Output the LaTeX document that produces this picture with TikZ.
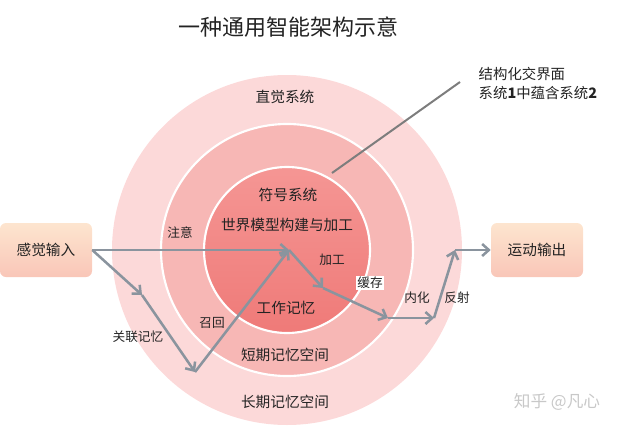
\documentclass[tikz,border=0pt]{standalone}
\usepackage{fontspec}
\setmainfont{Noto Sans CJK SC}
\usetikzlibrary{arrows.meta}
\definecolor{ringout}{RGB}{252,217,217}
\definecolor{ringmid}{RGB}{247,183,181}
\definecolor{coretop}{RGB}{245,150,148}
\definecolor{corebot}{RGB}{239,122,120}
\definecolor{boxtop}{RGB}{253,229,207}
\definecolor{boxbot}{RGB}{249,198,184}
\definecolor{arrowgray}{RGB}{138,148,158}
\definecolor{callgray}{RGB}{125,125,125}
\definecolor{txt}{RGB}{35,35,35}
\definecolor{mark}{RGB}{200,200,200}

\begin{document}
\begin{tikzpicture}[x=0.75pt,y=-0.75pt,
	flow/.style={draw=arrowgray, line width=1.9pt, -{Straight Barb[length=5pt,width=9pt]}},
	iobox/.style={rounded corners=4.5pt, minimum width=69pt, minimum height=40.5pt,
		top color=boxtop, bottom color=boxbot, text=txt, font=\fontsize{11}{13}\selectfont},
	lbl/.style={text=txt, font=\fontsize{9.5}{11}\selectfont},
	ringlbl/.style={text=txt, font=\fontsize{11}{13}\selectfont}]
				\useasboundingbox (0,0) rectangle (640,429);
				\coordinate (c) at (287,250);
				\fill[ringout] (c) circle (131.25pt);
				\draw[white, line width=1.6pt, fill=ringmid] (c) circle (94.5pt);
				\shade[top color=coretop, bottom color=corebot] (c) circle (62.25pt);
				\draw[white, line width=1.6pt] (c) circle (62.25pt);
				\node[text=txt, font=\fontsize{16.5}{18}\selectfont] (title) at (288,27) {一种通用智能架构示意};
				\node[ringlbl] (intuit) at (285,97) {直觉系统};
				\node[ringlbl] (symbol) at (288,195) {符号系统};
				\node[ringlbl] (world) at (287,225) {世界模型构建与加工};
				\node[ringlbl] (work) at (286,308) {工作记忆};
				\node[ringlbl] (short) at (285,355) {短期记忆空间};
				\node[ringlbl] (long) at (285,402) {长期记忆空间};
				\node[iobox] (sense) at (46,250) {感觉输入};
				\node[iobox] (motor) at (537,250) {运动输出};
				\coordinate (hub) at (289,250);
				\coordinate (assoc) at (142,295);
				\coordinate (recall) at (195,372);
				\coordinate (proc) at (323,288);
				\coordinate (cache) at (388,318);
				\coordinate (intern) at (434,318);
				\coordinate (reflex) at (455,250);
				\draw[flow] (sense.east) -- (hub);
				\draw[flow] (sense.east) -- (assoc);
				\draw[flow] (assoc) -- (recall);
				\draw[flow] (recall) -- (hub);
				\draw[flow] (hub) -- (proc);
				\draw[flow] (proc) -- (cache);
				\draw[flow] (cache) -- (intern);
				\draw[flow] (intern) -- (reflex);
				\draw[flow] (reflex) -- (motor.west);
				\node[lbl] (attend) at (180,233) {注意};
				\node[lbl] (assoclbl) at (138,337) {关联记忆};
				\node[lbl] (recalllbl) at (212,323) {召回};
				\node[lbl] (proclbl) at (332,260) {加工};
				\node[lbl, fill=white, inner sep=1pt] (cachelbl) at (370,283) {缓存};
				\node[lbl] (internlbl) at (417,298) {内化};
				\node[lbl] (reflexlbl) at (457,298) {反射};
				\coordinate (ifin) at (332,173);
				\coordinate (ifout) at (460,82);
				\draw[callgray, line width=1.5pt] (ifin) -- (ifout);
				\node[text=txt, anchor=west, align=left, font=\fontsize{10.8}{14.3}\selectfont] (iface) at (474,83)
					{结构化交界面\\系统\textbf{1}中蕴含系统\textbf{2}};
				\node[text=mark, font=\fontsize{12.5}{14}\selectfont] (zhihu) at (557,402) {知乎 @凡心};
			\end{tikzpicture}
\end{document}
